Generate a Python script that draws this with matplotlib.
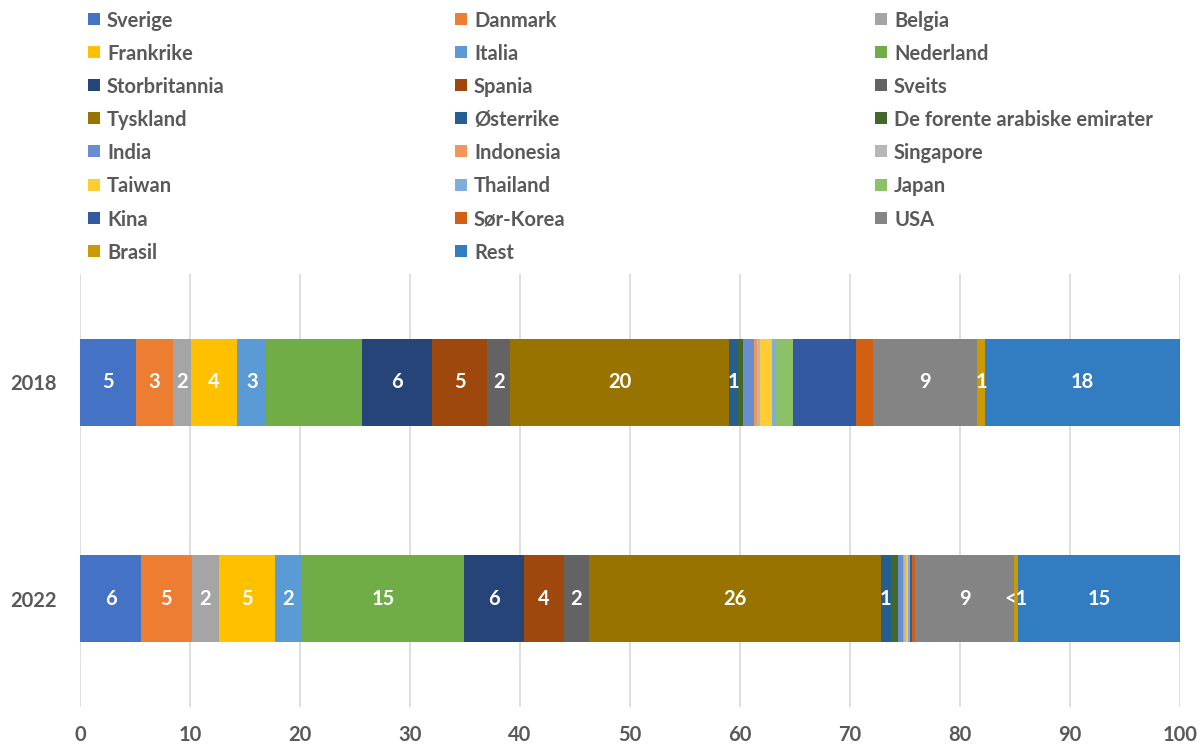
import matplotlib
matplotlib.use("Agg")
import matplotlib.pyplot as plt
from matplotlib.patches import Rectangle

plt.rcParams["font.family"] = ["Lato", "DejaVu Sans"]

# Share per country (percent), stacked left to right
countries = [
    "Sverige", "Danmark", "Belgia", "Frankrike", "Italia", "Nederland",
    "Storbritannia", "Spania", "Sveits", "Tyskland", "Østerrike",
    "De forente arabiske emirater", "India", "Indonesia", "Singapore",
    "Taiwan", "Thailand", "Japan", "Kina", "Sør-Korea", "USA", "Brasil", "Rest",
]
years = ["2018", "2022"]
values_2018 = [5.06, 3.42, 1.61, 4.21, 2.64, 8.73, 6.36, 5.00, 2.09, 19.85, 0.88,
               0.42, 1.03, 0.25, 0.24, 1.09, 0.42, 1.52, 5.73, 1.58, 9.42, 0.73, 17.73]
values_2022 = [5.55, 4.60, 2.45, 5.10, 2.48, 14.70, 5.52, 3.56, 2.34, 26.49, 0.95,
               0.58, 0.47, 0.13, 0.18, 0.13, 0.12, 0.10, 0.18, 0.30, 8.98, 0.33, 14.76]

# Countries whose segments carry a value label
labelled_2018 = ["Sverige", "Danmark", "Belgia", "Frankrike", "Italia", "Storbritannia",
                 "Spania", "Sveits", "Tyskland", "Østerrike", "USA", "Brasil", "Rest"]
labelled_2022 = ["Sverige", "Danmark", "Belgia", "Frankrike", "Italia", "Nederland",
                 "Storbritannia", "Spania", "Sveits", "Tyskland", "Østerrike", "USA",
                 "Brasil", "Rest"]

colors = [
    "#4472C4", "#ED7D31", "#A5A5A5", "#FFC000", "#5B9BD5", "#70AD47",
    "#264478", "#9E480E", "#636363", "#997300", "#255E91", "#43682B",
    "#698ED0", "#F1975A", "#B7B7B7", "#FFCD33", "#7CAFDD", "#8CC168",
    "#335AA1", "#D26012", "#848484", "#CC9A00", "#327DC2",
]

x_ticks = list(range(0, 101, 10))

TEXT_GRAY = "#595959"
W, H = 1204, 744

fig = plt.figure(figsize=(W / 100, H / 100), dpi=100)
ax = fig.add_axes([80 / W, (H - 707) / H, 1100 / W, 433 / H])

series = [values_2018, values_2022]
labelled = [labelled_2018, labelled_2022]
ypos = list(range(len(years)))

def fmt(v):
    return "<1" if v < 0.5 else f"{round(v):d}"

for yi, (vals, lab) in enumerate(zip(series, labelled)):
    left = 0.0
    for name, v, c in zip(countries, vals, colors):
        ax.barh(ypos[yi], v, left=left, height=0.40, color=c, linewidth=0, zorder=3)
        if name in lab:
            ax.text(left + v / 2, ypos[yi], fmt(v), ha="center", va="center",
                    color="white", fontsize=14.5, fontweight="bold", zorder=4)
        left += v

ax.set_xlim(0, 100)
ax.set_ylim(1.5, -0.5)
ax.set_xticks(x_ticks)
ax.set_xticklabels([str(t) for t in x_ticks])
ax.set_yticks(ypos)
ax.set_yticklabels(years)
for lbl in ax.get_xticklabels() + ax.get_yticklabels():
    lbl.set_fontsize(14.5)
    lbl.set_fontweight("bold")
    lbl.set_color(TEXT_GRAY)
ax.tick_params(axis="both", length=0)
ax.tick_params(axis="x", pad=13)
ax.tick_params(axis="y", pad=17)
ax.grid(axis="x", color="#D9D9D9", linewidth=1.2, zorder=0)
for s in ax.spines.values():
    s.set_visible(False)

# Legend laid out row by row in three columns
col_marker_x = [88, 455, 875]
row_y0, row_dy = 19, 33.1
for i, (name, c) in enumerate(zip(countries, colors)):
    row, col = divmod(i, 3)
    yc = row_y0 + row * row_dy
    mx = col_marker_x[col]
    fig.patches.append(Rectangle((mx / W, (H - yc - 6) / H), 12 / W, 12 / H,
                                 transform=fig.transFigure, color=c, linewidth=0))
    fig.text((mx + 19) / W, (H - yc) / H, name, ha="left", va="center_baseline",
             fontsize=14.5, fontweight="bold", color=TEXT_GRAY)

fig.savefig("out.png", dpi=100)
